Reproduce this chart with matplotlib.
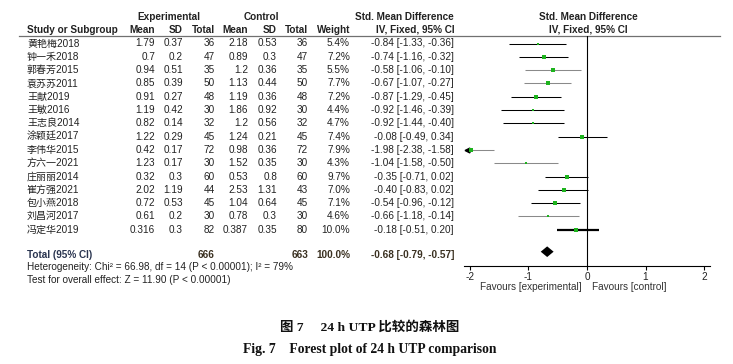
import matplotlib
matplotlib.use("Agg")
import matplotlib.pyplot as plt

plt.rcParams['axes.unicode_minus'] = False

# study data
names = ['黄艳梅2018', '钟一禾2018', '郭春芳2015', '袁苏苏2011', '王献2019', '王敏2016',
         '王志良2014', '涂颖廷2017', '李伟华2015', '方六一2021', '庄丽丽2014', '崔方强2021',
         '包小燕2018', '刘昌河2017', '冯定华2019']
exp_mean = [1.79, 0.7, 0.94, 0.85, 0.91, 1.19, 0.82, 1.22, 0.42, 1.23, 0.32, 2.02, 0.72, 0.61, 0.316]
exp_sd = [0.37, 0.2, 0.51, 0.39, 0.27, 0.42, 0.14, 0.29, 0.17, 0.17, 0.3, 1.19, 0.53, 0.2, 0.3]
exp_n = [36, 47, 35, 50, 48, 30, 32, 45, 72, 30, 60, 44, 45, 30, 82]
ctl_mean = [2.18, 0.89, 1.2, 1.13, 1.19, 1.86, 1.2, 1.24, 0.98, 1.52, 0.53, 2.53, 1.04, 0.78, 0.387]
ctl_sd = [0.53, 0.3, 0.36, 0.44, 0.36, 0.92, 0.56, 0.21, 0.36, 0.35, 0.8, 1.31, 0.64, 0.3, 0.35]
ctl_n = [36, 47, 35, 50, 48, 30, 32, 45, 72, 30, 60, 43, 45, 30, 80]
weight = [5.4, 7.2, 5.5, 7.7, 7.2, 4.4, 4.7, 7.4, 7.9, 4.3, 9.7, 7.0, 7.1, 4.6, 10.0]
smd = [-0.84, -0.74, -0.58, -0.67, -0.87, -0.92, -0.92, -0.08, -1.98, -1.04, -0.35, -0.40, -0.54, -0.66, -0.18]
ci_lo = [-1.33, -1.16, -1.06, -1.07, -1.29, -1.46, -1.44, -0.49, -2.38, -1.58, -0.71, -0.83, -0.96, -1.18, -0.51]
ci_hi = [-0.36, -0.32, -0.10, -0.27, -0.45, -0.39, -0.40, 0.34, -1.58, -0.50, 0.02, 0.02, -0.12, -0.14, 0.20]

# pooled
tot_exp = 666
tot_ctl = 663
tot_smd, tot_lo, tot_hi = -0.68, -0.79, -0.57
heterog = 'Heterogeneity: Chi² = 66.98, df = 14 (P < 0.00001); I² = 79%'
overall = 'Test for overall effect: Z = 11.90 (P < 0.00001)'
xticks = [-2, -1, 0, 1, 2]

# line look per row (rendering in the original)
ci_colors = ['k', 'k', '#8a8a8a', '#8a8a8a', 'k', 'k', 'k', 'k', '#8a8a8a', '#8a8a8a',
             'k', 'k', 'k', '#8a8a8a', 'k']
ci_lw = [0.75] * 14 + [1.6]

sans = ['Liberation Sans', 'Noto Sans CJK SC']
fs = 7.2
tc = '#222222'
green = '#1db31d'

fig = plt.figure(figsize=(7.33, 3.64), dpi=100)
tx = fig.add_axes([0, 0, 1, 1])
tx.set_xlim(0, 733)
tx.set_ylim(364, 0)
tx.axis('off')

row0, dy = 43.5, 13.3
def rowy(i):
    return row0 + dy * i

def t(x, y, s, ha='right', bold=False, **kw):
    tx.text(x, y, s, ha=ha, va='center', fontsize=fs, family=sans,
            fontweight='bold' if bold else 'normal', color=kw.pop('color', tc), **kw)

# headers
t(169, 17, 'Experimental', ha='center', bold=True)
t(261.5, 17, 'Control', ha='center', bold=True)
t(454, 17, 'Std. Mean Difference', bold=True)
t(588, 17, 'Std. Mean Difference', ha='center', bold=True)
t(27, 30, 'Study or Subgroup', ha='left', bold=True)
for x, s in [(155, 'Mean'), (183, 'SD'), (215, 'Total'), (248, 'Mean'), (277, 'SD'),
             (308, 'Total'), (350, 'Weight'), (455, 'IV, Fixed, 95% CI')]:
    t(x, 30, s, bold=True)
t(588, 30, 'IV, Fixed, 95% CI', ha='center', bold=True)
tx.plot([19, 720], [35.5, 35.5], color='#707070', lw=0.9)

# table rows
for i in range(len(names)):
    y = rowy(i)
    t(27, y, names[i], ha='left')
    t(155, y, f'{exp_mean[i]:g}')
    t(183, y, f'{exp_sd[i]:g}')
    t(215, y, f'{exp_n[i]}')
    t(248, y, f'{ctl_mean[i]:g}')
    t(277, y, f'{ctl_sd[i]:g}')
    t(308, y, f'{ctl_n[i]}')
    t(350, y, f'{weight[i]:.1f}%')
    t(454, y, f'{smd[i]:.2f} [{ci_lo[i]:.2f}, {ci_hi[i]:.2f}]')

ty = 255
t(27, ty, 'Total (95% CI)', ha='left', bold=True, color='#2a3550')
t(215, ty, f'{tot_exp}', bold=True, color='#3a3020')
t(308, ty, f'{tot_ctl}', bold=True, color='#3a3020')
t(350, ty, '100.0%', bold=True, color='#3a3020')
t(454, ty, f'{tot_smd:.2f} [{tot_lo:.2f}, {tot_hi:.2f}]', bold=True, color='#3a3020')
t(27, 267.5, heterog, ha='left')
t(27, 280, overall, ha='left')

# forest panel
top_px, bot_px = 35.5, 265.7
ax = fig.add_axes([464 / 733, (364 - bot_px) / 364, 246 / 733, (bot_px - top_px) / 364])
ax.set_facecolor('none')
xlo, xhi = -2.1, 2.1
ax.set_xlim(xlo, xhi)
ax.set_ylim((bot_px - row0) / dy, (top_px - row0) / dy)
for s in ['top', 'left', 'right']:
    ax.spines[s].set_visible(False)
ax.spines['bottom'].set_linewidth(0.8)
ax.set_yticks([])
ax.set_xticks(xticks)
ax.set_xticklabels([str(v) for v in xticks], fontsize=fs, family=sans, color=tc)
ax.tick_params(axis='x', length=3, width=0.8, pad=1.5)
ax.axvline(0, color='k', lw=0.8)

for i in range(len(names)):
    lo = max(ci_lo[i], xlo + 0.03)
    ax.plot([lo, ci_hi[i]], [i, i], color=ci_colors[i], lw=ci_lw[i], solid_capstyle='butt')
    if ci_lo[i] < xlo:
        ax.plot(xlo + 0.05, i, marker='<', ms=3.5, color='k', clip_on=False)
    ax.plot(smd[i], i, marker='s', ms=(1.8 + 0.22 * weight[i]) * 0.72, color=green, mec=green, mew=0)

yd = (251.7 - row0) / dy
ax.fill([tot_lo, tot_smd, tot_hi, tot_smd], [yd, yd - 0.4, yd, yd + 0.4], color='k', lw=0)

t(582, 287, 'Favours [experimental]', color='#333333')
t(592, 287, 'Favours [control]', ha='left', color='#333333')

# caption
cap = ['Liberation Serif', 'Noto Sans CJK SC']
tx.text(369.5, 327, '图 7\u3000 24 h UTP 比较的森林图', ha='center', va='center',
        fontsize=9.7, family=cap, fontweight='bold', color='#111111')
tx.text(369.5, 349, 'Fig. 7\u2003Forest plot of 24 h UTP comparison', ha='center', va='center',
        fontsize=9.8, family=cap, fontweight='bold', color='#111111')

fig.savefig('out.png', dpi=100)
